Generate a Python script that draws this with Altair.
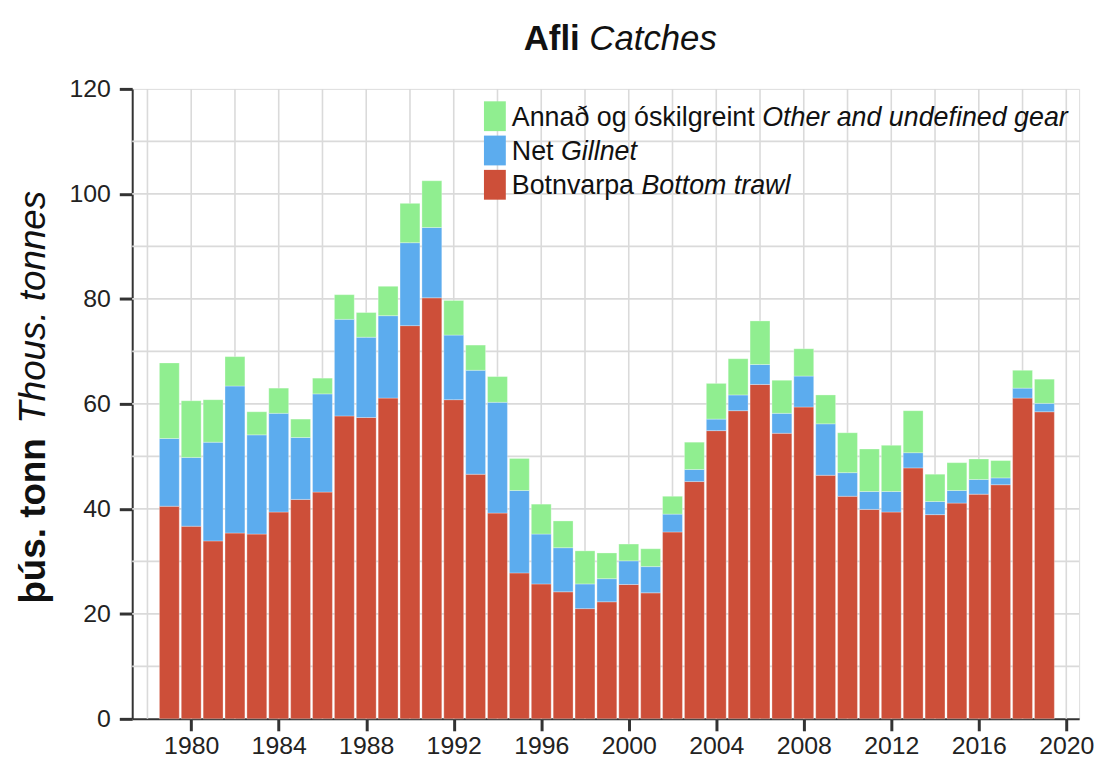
import altair as alt
import pandas as pd

# ---- data (thousand tonnes) ----
years = list(range(1979, 2020))
bottom_trawl = [40.5, 36.7, 33.9, 35.4, 35.2, 39.4, 41.8, 43.2, 57.7, 57.4,
                61.1, 74.9, 80.2, 60.8, 46.6, 39.2, 27.8, 25.7, 24.2, 21.0,
                22.3, 25.6, 24.0, 35.6, 45.2, 54.9, 58.7, 63.7, 54.4, 59.4,
                46.4, 42.4, 39.9, 39.4, 47.8, 38.9, 41.1, 42.8, 44.6, 61.1,
                58.5]
gillnet = [12.9, 13.1, 18.8, 28.0, 18.9, 18.8, 11.8, 18.7, 18.4, 15.3,
           15.7, 15.8, 13.4, 12.3, 19.8, 21.1, 15.7, 9.5, 8.4, 4.7,
           4.4, 4.5, 5.0, 3.4, 2.3, 2.2, 3.0, 3.8, 3.8, 5.9,
           9.8, 4.5, 3.4, 3.9, 2.9, 2.5, 2.4, 2.8, 1.3, 1.9,
           1.6]
other = [14.4, 10.8, 8.1, 5.6, 4.4, 4.8, 3.5, 3.0, 4.7, 4.7,
         5.6, 7.5, 8.9, 6.6, 4.8, 4.9, 6.1, 5.7, 5.1, 6.3,
         4.9, 3.2, 3.4, 3.4, 5.2, 6.8, 6.9, 8.3, 6.3, 5.2,
         5.5, 7.6, 8.1, 8.8, 8.0, 5.2, 5.3, 3.9, 3.3, 3.4,
         4.6]

gear_is = ["Botnvarpa", "Net", "Annað og óskilgreint"]
gear_en = ["Bottom trawl", "Gillnet", "Other and undefined gear"]
gear_colors = ["#CD4F39", "#5CACEE", "#90EE90"]

y_ticks = [0, 20, 40, 60, 80, 100, 120]
x_ticks = list(range(1980, 2021, 4))
grid_x = list(range(1978, 2021, 2))
grid_y = list(range(10, 120, 10))

title_is = "Afli"
title_en = "Catches"
ytitle_is = "þús. tonn"
ytitle_en = "Thous. tonnes"

# ---- long table ----
rows = []
for i, yr in enumerate(years):
    for k, series in enumerate([bottom_trawl, gillnet, other]):
        rows.append({"year": yr, "gear": gear_is[k], "order": k, "value": series[i]})
df = pd.DataFrame(rows)

FONT = "Liberation Sans"
xscale = alt.Scale(domain=[1977.53, 2020.36], nice=False, zero=False)
yscale = alt.Scale(domain=[0, 120], nice=False)

xaxis = alt.Axis(values=x_ticks, format="d", title=None, grid=False,
                 labelFontSize=25, labelColor="#222", labelPadding=3,
                 tickSize=12, tickWidth=3, tickColor="#333",
                 domainColor="#333", domainWidth=2, labelFlush=False)
yaxis = alt.Axis(values=y_ticks, title=None, grid=False,
                 labelFontSize=25, labelColor="#222", labelPadding=9,
                 tickSize=13, tickWidth=3, tickColor="#333",
                 domainColor="#333", domainWidth=2)

vgrid = alt.Chart(pd.DataFrame({"gx": grid_x})).mark_rule(
    color="#dadada", strokeWidth=1.6
).encode(x=alt.X("gx:Q", scale=xscale, axis=xaxis))

hgrid = alt.Chart(pd.DataFrame({"gy": grid_y})).mark_rule(
    color="#dadada", strokeWidth=1.6
).encode(y=alt.Y("gy:Q", scale=yscale, axis=yaxis))

bars = alt.Chart(df).mark_bar(size=20, stroke="white", strokeWidth=0.5, strokeOpacity=0.6).encode(
    x=alt.X("year:Q", scale=xscale, axis=xaxis),
    y=alt.Y("value:Q", stack="zero", scale=yscale, axis=yaxis),
    color=alt.Color("gear:N", scale=alt.Scale(domain=gear_is, range=gear_colors), legend=None),
    order=alt.Order("order:Q", sort="ascending"),
)

def txt(s, x, y, size, weight="normal", style="normal", angle=0):
    return alt.Chart(pd.DataFrame({"t": [s]})).mark_text(
        align="left", baseline="alphabetic", fontSize=size, font=FONT,
        fontWeight=weight, fontStyle=style, angle=angle, color="#111"
    ).encode(text="t:N", x=alt.value(x), y=alt.value(y))

layers = [vgrid, hgrid, bars]

# title
layers.append(txt(title_is, 394, -39, 35, weight="bold"))
layers.append(txt(title_en, 460, -39, 35, style="italic"))

# y axis title (rotated)
layers.append(txt(ytitle_is, -88, 518, 37, weight="bold", angle=270))
layers.append(txt(ytitle_en, -88, 337, 37, style="italic", angle=270))

# legend (top = Other, then Gillnet, then Bottom trawl)
leg_order = [2, 1, 0]
leg_centers = [27.5, 62, 96.5]
italic_x = {2: 634, 1: 431.5, 0: 512.5}
for row, k in enumerate(leg_order):
    cy = leg_centers[row]
    sw = alt.Chart(pd.DataFrame({"g": [gear_is[k]]})).mark_rect(color=gear_colors[k]).encode(
        x=alt.value(354), x2=alt.value(376), y=alt.value(cy - 15), y2=alt.value(cy + 15)
    )
    layers.append(sw)
    layers.append(txt(gear_is[k], 382, cy + 9.5, 27))
    layers.append(txt(gear_en[k], italic_x[k], cy + 9.5, 27, style="italic"))

chart = alt.layer(*layers).properties(
    width=953, height=634,
    autosize=alt.AutoSizeParams(type="none"),
    padding={"left": 125, "top": 79, "right": 22, "bottom": 40},
).configure_view(
    stroke="#444", strokeWidth=1.5
).configure(font=FONT)

chart.save("out.html", embed_options={"renderer": "svg", "actions": False})
